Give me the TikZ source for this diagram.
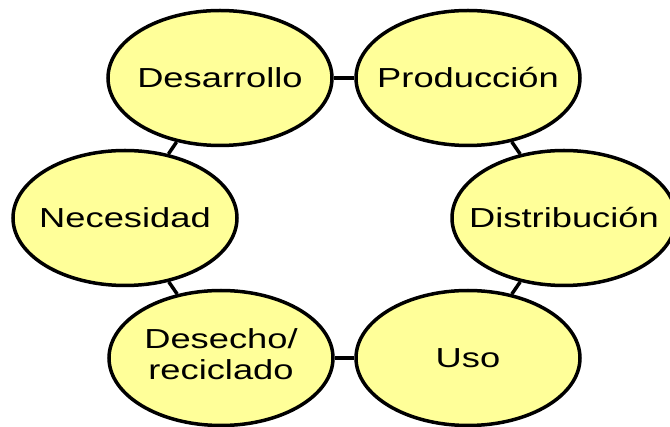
\documentclass[tikz,border=0pt]{standalone}
\usepackage{fontspec}
\setmainfont{Liberation Sans}[FakeStretch=1.32]
\usetikzlibrary{shapes.geometric}
\definecolor{pale}{HTML}{FFFF99}
\newcommand{\zw}[1]{\makebox[0pt][c]{#1}}
\begin{document}
\begin{tikzpicture}[x=1pt,y=-1pt,
  stage/.style={ellipse, draw=black, line width=3.5pt, fill=pale,
    minimum width=224pt, minimum height=135pt, inner sep=0pt,
    font=\fontsize{27.5}{31}\selectfont},
  link/.style={draw=black, line width=3.5pt}]
\useasboundingbox (0,0) rectangle (670,427);
\node[stage] (des) at (220,78) {\zw{Desarrollo}};
\node[stage] (pro) at (468,78) {\zw{Producción}};
\node[stage] (dis) at (564,218) {\zw{Distribución}};
\node[stage] (uso) at (468,358) {\zw{Uso}};
\node[stage] (dr) at (221,358) {\zw{\begin{tabular}{@{}c@{}}Desecho/\\reciclado\end{tabular}}};
\node[stage] (nec) at (125,218) {\zw{Necesidad}};
\draw[link] (des) -- (pro);
\draw[link] (pro) -- (dis);
\draw[link] (dis) -- (uso);
\draw[link] (uso) -- (dr);
\draw[link] (dr) -- (nec);
\draw[link] (nec) -- (des);
\end{tikzpicture}
\end{document}
